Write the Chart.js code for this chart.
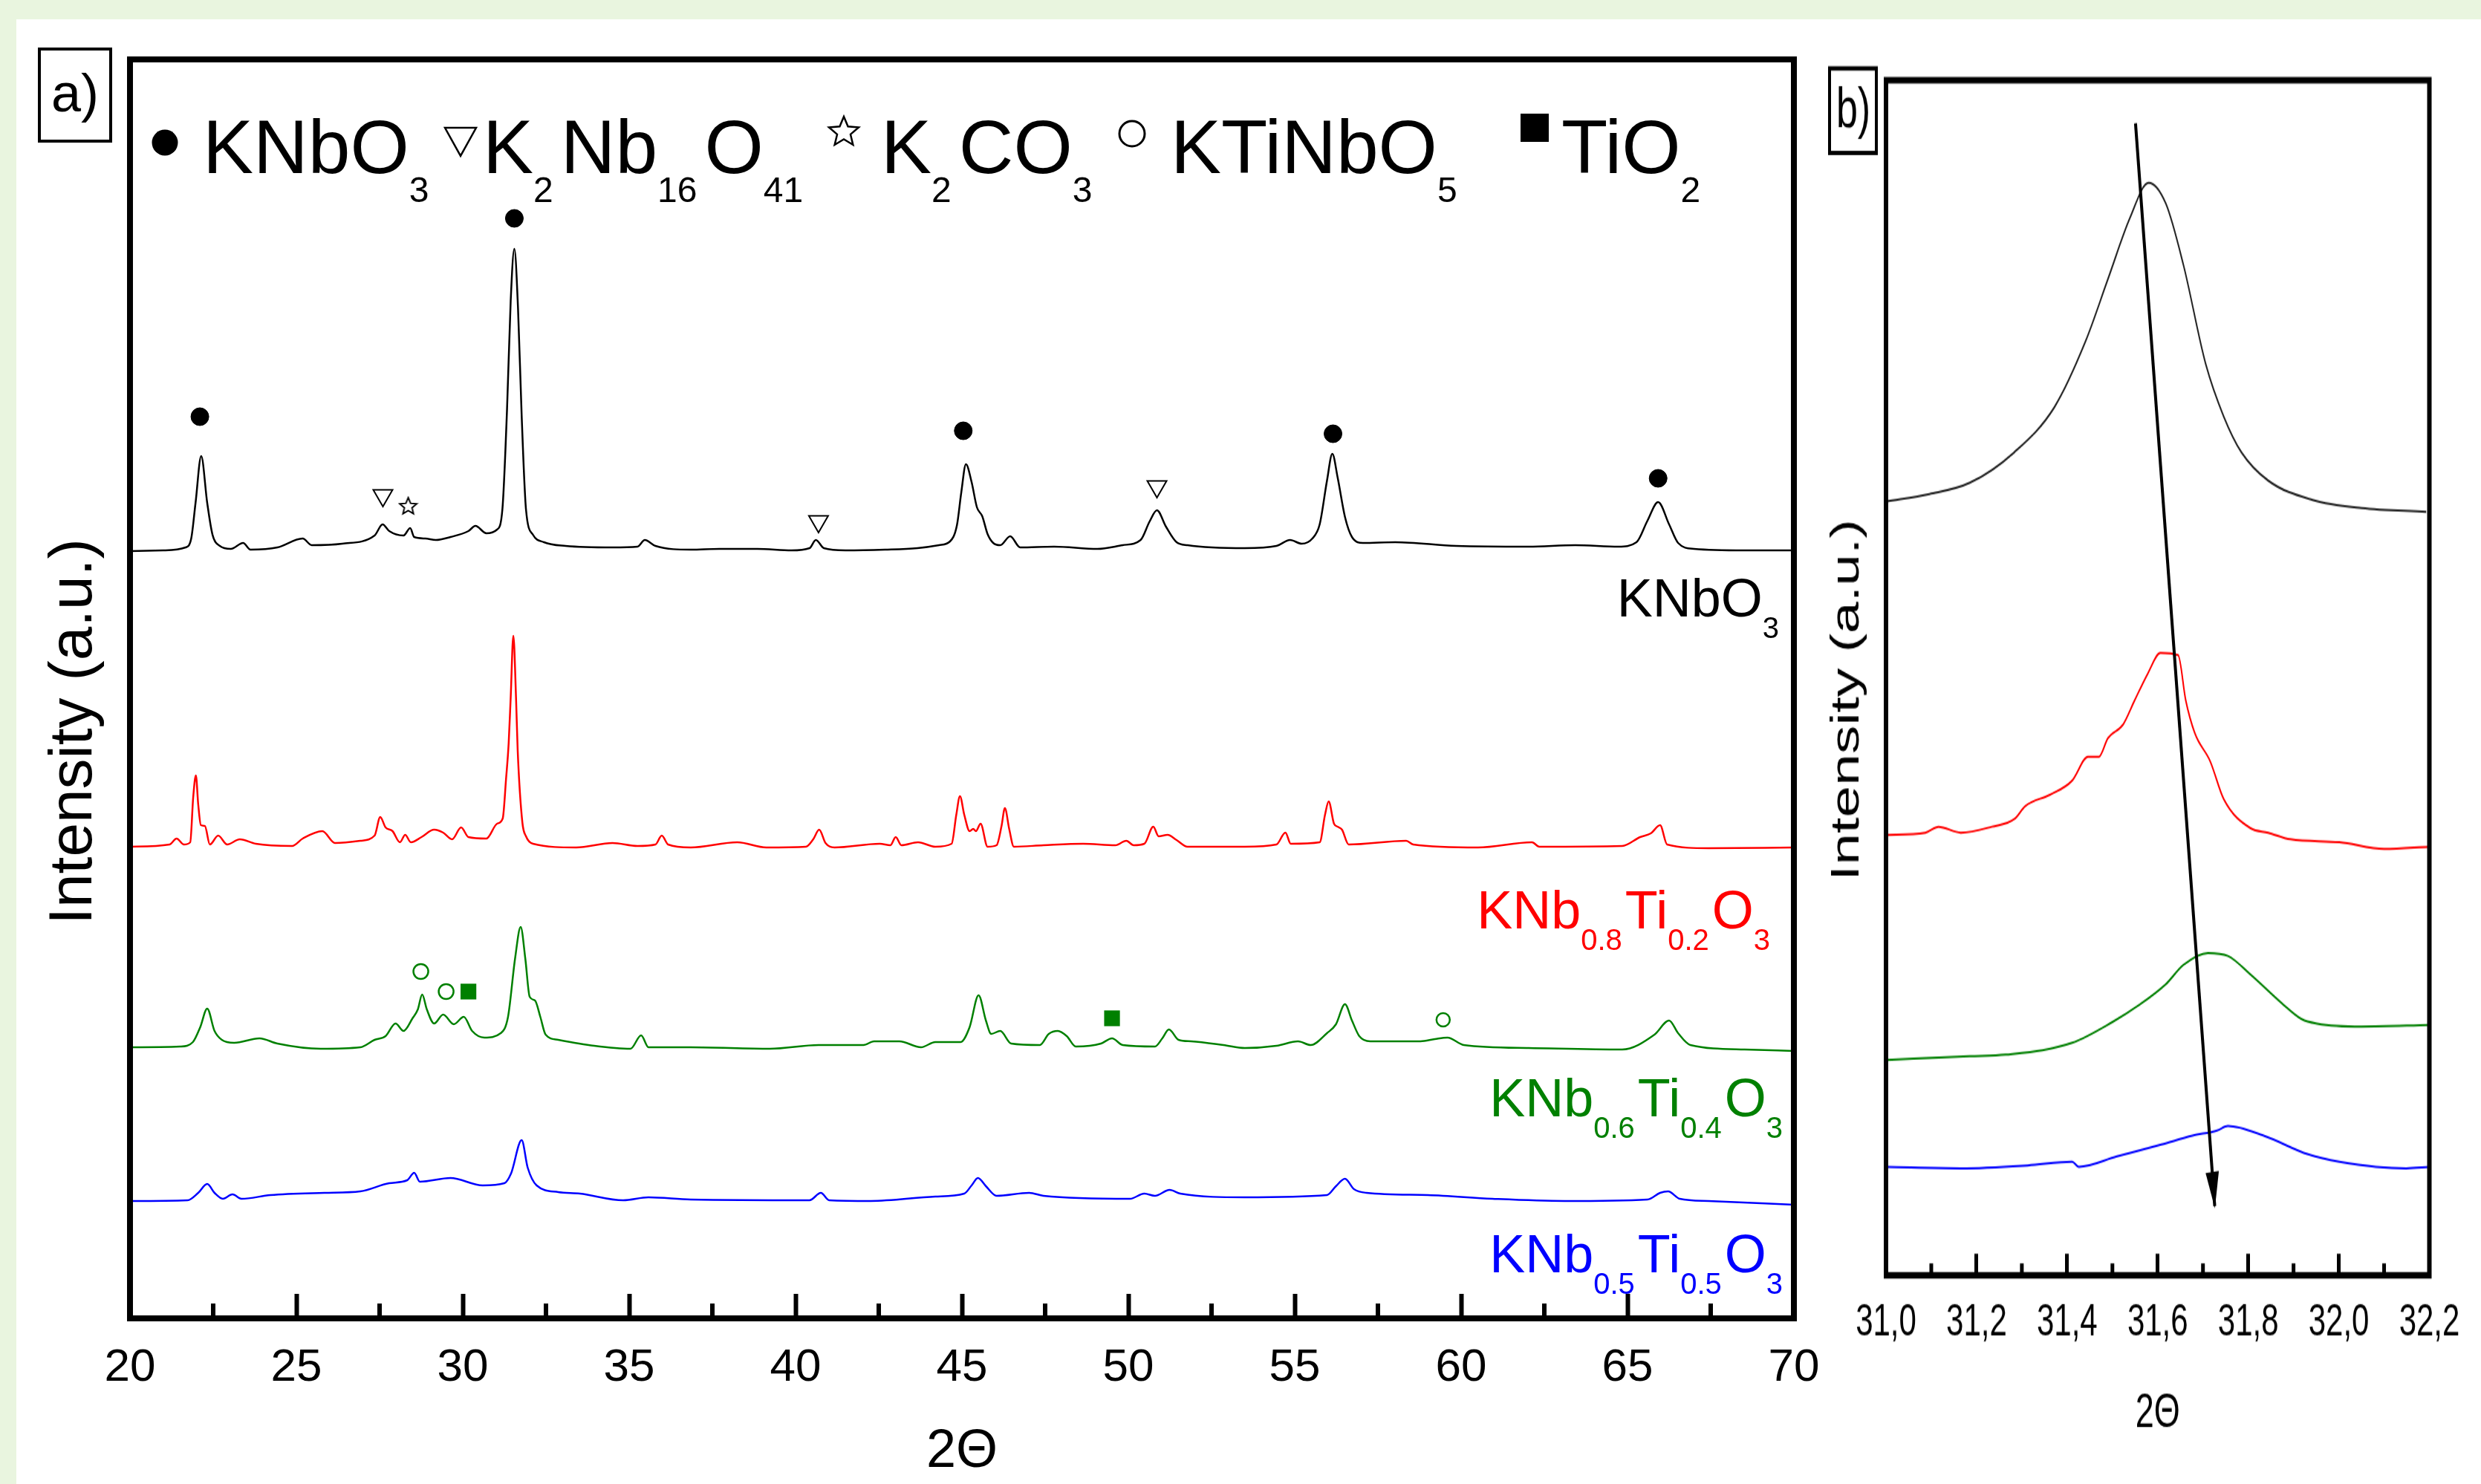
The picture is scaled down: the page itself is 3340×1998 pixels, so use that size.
<!DOCTYPE html>
<html>
<head>
<meta charset="utf-8">
<title>XRD patterns of KNbO3 and KNb1-xTixO3</title>
<script src="https://cdn.jsdelivr.net/npm/chart.js@4.4.1/dist/chart.umd.min.js"></script>
<style>
  html, body { margin: 0; padding: 0; }
  body { width: 3340px; height: 1998px; background: #e9f5df; position: relative; overflow: hidden; }
  .sheet { position: absolute; left: 22px; top: 26px; right: 0; bottom: 0; background: #fff; }
  canvas { position: absolute; top: 0; }
  #xrd { left: 0; }
  #zoom { left: 2420px; }
</style>
</head>
<body>
<div class="sheet"></div>
<canvas id="xrd" width="2520" height="1998" style="width:2520px;height:1998px"></canvas>
<canvas id="zoom" width="960" height="1378" style="width:960px;height:1998px"></canvas>
<script>
const FONT = "'Liberation Sans', Arial, Helvetica, sans-serif";
Chart.defaults.font.family = FONT;
Chart.defaults.color = '#000';

// a) full patterns, [2theta, counts above the pattern's own baseline]
const knbo3Pattern = [
  [20.00, 0], [21.00, 1], [21.67, 5], [21.84, 17], [21.97, 65], [22.14, 128], [22.32, 65], [22.48, 22],
  [22.70, 7], [23.03, 3], [23.40, 11], [23.62, 2], [24.43, 5], [25.19, 17], [25.46, 8], [26.38, 10],
  [27.35, 21], [27.59, 36], [27.79, 27], [28.22, 21], [28.42, 31], [28.54, 19], [28.87, 17], [29.19, 15],
  [29.63, 19], [30.17, 27], [30.38, 34], [30.71, 24], [31.03, 29], [31.19, 56], [31.33, 191], [31.44, 337],
  [31.55, 407], [31.66, 327], [31.77, 182], [31.90, 56], [32.11, 22], [32.44, 12], [33.09, 7], [34.50, 5],
  [35.25, 6], [35.47, 15], [35.79, 7], [36.85, 2], [37.71, 3], [38.85, 3], [39.88, 1], [40.42, 4],
  [40.61, 15], [40.85, 4], [41.50, 1], [42.69, 2], [43.66, 4], [44.31, 8], [44.64, 13], [44.85, 35],
  [44.98, 79], [45.12, 117], [45.29, 93], [45.45, 59], [45.61, 47], [45.77, 23], [45.94, 11], [46.15, 8],
  [46.45, 20], [46.75, 5], [47.77, 6], [49.07, 3], [49.83, 8], [50.37, 15], [50.64, 40], [50.86, 55],
  [51.13, 33], [51.45, 12], [51.78, 8], [53.50, 4], [54.45, 7], [54.86, 15], [55.21, 10], [55.53, 17],
  [55.75, 36], [55.97, 95], [56.13, 131], [56.29, 99], [56.51, 46], [56.72, 19], [57.05, 11], [58.02, 12],
  [59.86, 7], [62.03, 6], [63.43, 8], [64.73, 6], [65.27, 12], [65.60, 41], [65.92, 66], [66.25, 36],
  [66.52, 11], [67.00, 3], [68.52, 1], [70.00, 1],
];
const knbti02Pattern = [
  [20.00, 0], [21.19, 3], [21.40, 11], [21.62, 3], [21.81, 6], [21.90, 67], [21.98, 96], [22.05, 57],
  [22.13, 29], [22.25, 28], [22.40, 3], [22.65, 15], [22.92, 3], [23.30, 10], [23.78, 4], [24.87, 1],
  [25.19, 11], [25.78, 21], [26.16, 5], [26.92, 8], [27.35, 15], [27.52, 40], [27.68, 26], [27.89, 21],
  [28.11, 6], [28.27, 16], [28.44, 6], [28.76, 13], [29.14, 23], [29.41, 19], [29.68, 10], [29.95, 26],
  [30.17, 13], [30.71, 11], [31.03, 31], [31.20, 38], [31.30, 91], [31.38, 140], [31.44, 201], [31.52, 284],
  [31.60, 201], [31.65, 130], [31.79, 33], [31.90, 14], [32.11, 4], [33.41, -1], [34.50, 5], [35.25, 1],
  [35.79, 3], [35.98, 15], [36.17, 3], [36.85, -1], [38.25, 6], [39.12, -1], [40.31, 0], [40.53, 10],
  [40.71, 23], [40.90, 5], [41.17, -1], [42.53, 4], [42.85, 2], [43.01, 13], [43.18, 2], [43.68, 6],
  [44.20, 0], [44.69, 4], [44.83, 43], [44.94, 68], [45.07, 43], [45.23, 21], [45.34, 24], [45.42, 21],
  [45.56, 31], [45.77, 0], [46.04, 2], [46.19, 28], [46.29, 52], [46.42, 24], [46.56, 0], [47.45, 2],
  [48.64, 4], [49.61, 2], [49.94, 8], [50.16, 2], [50.48, 4], [50.75, 27], [50.91, 14], [51.18, 16],
  [51.45, 9], [51.78, 0], [53.50, 0], [54.45, 3], [54.72, 19], [54.88, 4], [55.75, 6], [55.91, 43],
  [56.02, 61], [56.18, 31], [56.29, 27], [56.42, 23], [56.62, 3], [58.35, 8], [58.56, 3], [60.51, -1],
  [62.13, 6], [62.35, 0], [64.84, 1], [65.38, 13], [65.70, 18], [65.98, 29], [66.19, 3], [67.44, -2],
  [70.00, -1],
];
const knbti04Pattern = [
  [20.00, 0], [21.51, 1], [21.89, 7], [22.11, 27], [22.32, 52], [22.54, 22], [22.76, 10], [23.13, 6],
  [23.89, 12], [24.43, 5], [25.73, -2], [26.92, 0], [27.35, 10], [27.68, 15], [27.98, 32], [28.22, 22],
  [28.49, 39], [28.65, 51], [28.78, 71], [28.92, 51], [29.14, 32], [29.41, 44], [29.73, 31], [30.03, 41],
  [30.28, 22], [30.65, 13], [31.14, 19], [31.36, 41], [31.57, 119], [31.74, 162], [31.88, 119], [32.01, 68],
  [32.17, 63], [32.33, 41], [32.49, 17], [32.87, 10], [33.95, 2], [35.04, -2], [35.36, 16], [35.58, 0],
  [36.85, 0], [39.23, -2], [40.69, 3], [42.04, 3], [42.36, 8], [43.12, 8], [43.77, 0], [44.20, 7],
  [44.96, 7], [45.23, 27], [45.50, 70], [45.72, 36], [45.88, 18], [46.15, 22], [46.48, 5], [47.34, 3],
  [47.61, 18], [47.88, 22], [48.15, 15], [48.42, 1], [49.18, 5], [49.51, 12], [49.83, 3], [50.80, 1],
  [51.02, 12], [51.22, 24], [51.51, 10], [51.89, 8], [52.86, 3], [53.50, -1], [54.45, 2], [55.10, 8],
  [55.48, 3], [55.97, 19], [56.24, 31], [56.51, 58], [56.72, 36], [56.94, 15], [57.27, 8], [58.78, 8],
  [59.21, 11], [59.59, 13], [60.08, 3], [62.03, -1], [64.84, -3], [65.81, 17], [66.25, 36], [66.52, 19],
  [66.89, 3], [68.52, -3], [70.00, -5],
];
const knbti05Pattern = [
  [20.00, 0], [21.73, 1], [22.05, 11], [22.32, 23], [22.54, 11], [22.79, 3], [23.08, 9], [23.35, 3],
  [24.22, 8], [25.84, 11], [26.92, 13], [27.79, 24], [28.33, 28], [28.54, 38], [28.71, 26], [29.63, 31],
  [30.60, 21], [31.25, 24], [31.45, 37], [31.77, 82], [31.95, 45], [32.22, 21], [32.87, 12], [33.52, 10],
  [34.82, 1], [35.58, 5], [36.85, 2], [40.42, 1], [40.76, 11], [41.01, 1], [42.26, 0], [44.20, 6],
  [45.07, 10], [45.29, 21], [45.48, 31], [45.72, 20], [46.04, 7], [47.02, 11], [47.45, 7], [50.05, 3],
  [50.48, 10], [50.80, 7], [51.24, 15], [51.56, 10], [53.50, 5], [55.97, 8], [56.24, 20], [56.51, 30],
  [56.78, 16], [57.16, 11], [59.00, 8], [60.94, 3], [63.11, 0], [65.60, 2], [65.98, 11], [66.22, 13],
  [66.57, 3], [67.44, 0], [70.00, -5],
];
const patterns = [knbo3Pattern, knbti02Pattern, knbti04Pattern, knbti05Pattern];
const patternOffsets = [1033, 635, 365, 158];
const patternColors = ['#000000', '#ff0000', '#008000', '#0000ff'];
const patternLabels = ['KNbO_{3}', 'KNb_{0.8}Ti_{0.2}O_{3}', 'KNb_{0.6}Ti_{0.4}O_{3}', 'KNb_{0.5}Ti_{0.5}O_{3}'];

// phase marks, [2theta, height in the stacked plot]
const knbo3Marks = [[22.10, 1214], [31.55, 1481], [45.04, 1195], [56.15, 1191], [65.92, 1131]];
const k2nb16o41Marks = [[27.60, 1108], [40.69, 1073], [50.86, 1120]];
const k2co3Marks = [[28.36, 1094]];
const ktinbo5Marks = [[28.74, 467], [29.50, 440], [59.46, 402]];
const tio2Marks = [[30.17, 440], [49.51, 404]];
const phaseNames = ['KNbO_{3}', 'K_{2}Nb_{16}O_{41}', 'K_{2}CO_{3}', 'KTiNbO_{5}', 'TiO_{2}'];
const minorTicksA = [22.5, 27.5, 32.5, 37.5, 42.5, 47.5, 52.5, 57.5, 62.5, 67.5];

// b) zoom on the main reflection
const zoomKnbo3 = [
  [31.000, 1042], [31.096, 1052], [31.185, 1067], [31.283, 1108], [31.372, 1169], [31.441, 1258],
  [31.490, 1341], [31.539, 1424], [31.580, 1471], [31.618, 1443], [31.657, 1360], [31.706, 1227],
  [31.746, 1156], [31.785, 1108], [31.844, 1070], [31.942, 1044], [32.050, 1033], [32.193, 1028],
];
const zoomTi02 = [
  [31.000, 593], [31.087, 596], [31.116, 604], [31.165, 596], [31.234, 604], [31.283, 614], [31.308, 632],
  [31.362, 647], [31.411, 666], [31.446, 698], [31.470, 698], [31.490, 723], [31.524, 742], [31.549, 774],
  [31.578, 810], [31.606, 838], [31.645, 835], [31.662, 774], [31.682, 730], [31.716, 692], [31.746, 641],
  [31.805, 602], [31.844, 596], [31.893, 587], [32.001, 583], [32.100, 574], [32.200, 577],
];
const zoomTi04 = [
  [31.000, 290], [31.185, 295], [31.264, 297], [31.411, 313], [31.500, 341], [31.559, 364], [31.618, 392],
  [31.657, 418], [31.711, 434], [31.755, 430], [31.805, 405], [31.873, 367], [31.918, 345], [31.952, 339],
  [32.050, 335], [32.200, 337],
];
const zoomTi05 = [
  [31.000, 146], [31.165, 144], [31.313, 148], [31.411, 153], [31.426, 146], [31.510, 160], [31.608, 176],
  [31.677, 188], [31.731, 195], [31.755, 201], [31.834, 188], [31.932, 163], [32.001, 153], [32.149, 144],
  [32.200, 146],
];
const zoomPatterns = [zoomKnbo3, zoomTi02, zoomTi04, zoomTi05];
const zoomColors = ['#222222', '#ff0000', '#008000', '#0000ff'];
const shiftArrow = [[31.551, 1551], [31.726, 93]];
const minorTicksB = [31.1, 31.3, 31.5, 31.7, 31.9, 32.1];

const toPoints = (pairs, offset = 0) => pairs.map(([x, y]) => ({ x, y: y + offset }));

function formulaParts(text) {
  return text.split(/_\{([^}]*)\}/)
    .map((t, i) => ({ t, sub: i % 2 === 1 }))
    .filter((p) => p.t);
}

function drawFormula(ctx, text, x, y, o) {
  const parts = formulaParts(text);
  const fontOf = (p) => `${p.sub ? o.subSize : o.size}px ${FONT}`;
  const widths = parts.map((p, i) => {
    ctx.font = fontOf(p);
    const gap = p.sub && i < parts.length - 1 ? o.gap : 0;
    return ctx.measureText(p.t).width + gap;
  });
  const total = widths.reduce((s, w) => s + w, 0);
  let cx = o.align === 'right' ? x - total : x;
  ctx.textAlign = 'left';
  ctx.textBaseline = 'alphabetic';
  parts.forEach((p, i) => {
    ctx.font = fontOf(p);
    ctx.fillText(p.t, cx, p.sub ? y + o.drop : y);
    cx += widths[i];
  });
}

function starPath(ctx, cx, cy, outer, inner) {
  ctx.beginPath();
  for (let i = 0; i < 10; i += 1) {
    const r = i % 2 ? inner : outer;
    const a = -Math.PI / 2 + (i * Math.PI) / 5;
    ctx.lineTo(cx + r * Math.cos(a), cy + r * Math.sin(a));
  }
  ctx.closePath();
}

function drawSymbol(ctx, kind, x, y, size, color) {
  ctx.save();
  ctx.fillStyle = color;
  ctx.strokeStyle = color;
  ctx.lineWidth = 2.5;
  const h = size / 2;
  if (kind === 'dot') {
    ctx.beginPath();
    ctx.arc(x, y, h, 0, Math.PI * 2);
    ctx.fill();
  } else if (kind === 'triangle') {
    ctx.beginPath();
    ctx.moveTo(x - h, y - size * 0.45);
    ctx.lineTo(x + h, y - size * 0.45);
    ctx.lineTo(x, y + size * 0.45);
    ctx.closePath();
    ctx.stroke();
  } else if (kind === 'star') {
    starPath(ctx, x, y, h, h * 0.45);
    ctx.stroke();
  } else if (kind === 'ring') {
    ctx.lineWidth = 3;
    ctx.beginPath();
    ctx.arc(x, y, h - 2, 0, Math.PI * 2);
    ctx.stroke();
  } else {
    ctx.fillRect(x - h, y - h, size, size);
  }
  ctx.restore();
}

// star marker for the scatter set
const starMark = document.createElement('canvas');
starMark.width = 28;
starMark.height = 28;
{
  const sctx = starMark.getContext('2d');
  sctx.strokeStyle = '#000';
  sctx.lineWidth = 2;
  starPath(sctx, 14, 15, 12, 5.4);
  sctx.stroke();
}

// layout of the hand-placed texts (canvas pixels)
const LEGEND_LAYOUT = [
  { kind: 'dot', sx: 222, sy: 192, size: 35, tx: 273 },
  { kind: 'triangle', sx: 620, sy: 191, size: 42, tx: 650 },
  { kind: 'star', sx: 1136, sy: 178, size: 42, tx: 1186 },
  { kind: 'ring', sx: 1524, sy: 180, size: 38, tx: 1576 },
  { kind: 'square', sx: 2066, sy: 172, size: 38, tx: 2102 },
];
const LABEL_ANCHORS = [[2395, 830], [2383, 1250], [2400, 1503], [2400, 1713]];

const panelA = {
  id: 'panelA',
  afterDraw(chart) {
    const { ctx, chartArea: area, scales: { x } } = chart;
    ctx.save();
    ctx.strokeStyle = '#000';
    ctx.fillStyle = '#000';
    ctx.lineWidth = 8;
    ctx.strokeRect(area.left, area.top, area.right - area.left, area.bottom - area.top);

    ctx.lineWidth = 6;
    minorTicksA.forEach((v) => {
      const px = x.getPixelForValue(v);
      ctx.beginPath();
      ctx.moveTo(px, area.bottom);
      ctx.lineTo(px, area.bottom - 20);
      ctx.stroke();
    });

    ctx.lineWidth = 4;
    ctx.strokeRect(53, 66, 96, 124);
    ctx.font = `72px ${FONT}`;
    ctx.textAlign = 'center';
    ctx.textBaseline = 'middle';
    ctx.fillText('a)', 101, 130);

    ctx.save();
    ctx.translate(100, 985);
    ctx.rotate(-Math.PI / 2);
    ctx.font = `82px ${FONT}`;
    ctx.fillText('Intensity (a.u.)', 0, 0);
    ctx.restore();

    LEGEND_LAYOUT.forEach((item, i) => {
      drawSymbol(ctx, item.kind, item.sx, item.sy, item.size, '#000');
      ctx.fillStyle = '#000';
      drawFormula(ctx, phaseNames[i], item.tx, 233, { size: 102, subSize: 48, drop: 39, gap: 10, align: 'left' });
    });

    patternLabels.forEach((label, i) => {
      const [rx, by] = LABEL_ANCHORS[i];
      ctx.fillStyle = patternColors[i];
      drawFormula(ctx, label, rx, by, { size: 72, subSize: 40, drop: 29, gap: 4, align: 'right' });
    });
    ctx.restore();
  },
};

const markerSets = [
  {
    label: 'KNbO3', data: toPoints(knbo3Marks), showLine: false, pointStyle: 'circle', pointRadius: 12,
    pointBackgroundColor: '#000', pointBorderColor: '#000', pointBorderWidth: 1,
  },
  {
    label: 'K2Nb16O41', data: toPoints(k2nb16o41Marks), showLine: false, pointStyle: 'triangle',
    pointRotation: 180, pointRadius: 15, pointBackgroundColor: '#fff', pointBorderColor: '#000', pointBorderWidth: 2,
  },
  {
    label: 'K2CO3', data: toPoints(k2co3Marks), showLine: false, pointStyle: starMark, pointRadius: 12,
  },
  {
    label: 'KTiNbO5', data: toPoints(ktinbo5Marks), showLine: false, pointStyle: 'circle', pointRadius: [10, 10, 9],
    pointBackgroundColor: '#fff', pointBorderColor: '#008000', pointBorderWidth: 2.5,
  },
  {
    label: 'TiO2', data: toPoints(tio2Marks), showLine: false, pointStyle: 'rect', pointRadius: 15,
    pointBackgroundColor: '#008000', pointBorderColor: '#008000', pointBorderWidth: 0,
  },
];

const patternSets = patterns.map((pairs, i) => ({
  label: patternLabels[i].replace(/[_{}]/g, ''),
  data: toPoints(pairs, patternOffsets[i]),
  borderColor: patternColors[i],
  borderWidth: 2.5,
  pointRadius: 0,
  cubicInterpolationMode: 'monotone',
}));

new Chart(document.getElementById('xrd'), {
  type: 'line',
  data: { datasets: [...markerSets, ...patternSets] },
  options: {
    responsive: false,
    animation: false,
    devicePixelRatio: 1,
    layout: { padding: { left: 175, right: 105, top: 80, bottom: 0 } },
    plugins: { legend: { display: false }, tooltip: { enabled: false } },
    scales: {
      x: {
        type: 'linear',
        min: 20,
        max: 70,
        ticks: { stepSize: 5, padding: 63, font: { size: 62 }, color: '#000' },
        grid: { drawOnChartArea: false, tickLength: -33, tickWidth: 6, tickColor: '#000' },
        border: { display: false },
        title: { display: true, text: '2Θ', font: { size: 72 }, color: '#000', padding: { top: 0, bottom: 0 } },
        afterFit: (scale) => { scale.height = 223; },
      },
      y: { display: false, min: 0, max: 1695 },
    },
  },
  plugins: [panelA],
});

const panelB = {
  id: 'panelB',
  afterDraw(chart) {
    const { ctx, chartArea: area, scales: { x } } = chart;
    ctx.save();
    ctx.strokeStyle = '#000';
    ctx.fillStyle = '#000';
    ctx.lineWidth = 6;
    ctx.strokeRect(area.left, area.top, area.right - area.left, area.bottom - area.top);

    ctx.lineWidth = 5;
    minorTicksB.forEach((v) => {
      const px = x.getPixelForValue(v);
      ctx.beginPath();
      ctx.moveTo(px, area.bottom);
      ctx.lineTo(px, area.bottom - 11);
      ctx.stroke();
    });

    const [p0, p1] = chart.getDatasetMeta(0).data;
    const ang = Math.atan2(p1.y - p0.y, p1.x - p0.x);
    ctx.save();
    ctx.translate(p1.x, p1.y);
    ctx.rotate(ang);
    ctx.beginPath();
    ctx.moveTo(2, 0);
    ctx.lineTo(-32, -9);
    ctx.lineTo(-32, 9);
    ctx.closePath();
    ctx.fill();
    ctx.restore();

    ctx.lineWidth = 4;
    ctx.strokeRect(43, 63.5, 63, 78.5);
    ctx.font = `52px ${FONT}`;
    ctx.textAlign = 'center';
    ctx.textBaseline = 'middle';
    ctx.fillText('b)', 75, 104);

    ctx.save();
    ctx.translate(67, 650);
    ctx.rotate(-Math.PI / 2);
    ctx.font = `53px ${FONT}`;
    ctx.fillText('Intensity (a.u.)', 0, 0);
    ctx.restore();
    ctx.restore();
  },
};

new Chart(document.getElementById('zoom'), {
  type: 'line',
  data: {
    datasets: [
      {
        label: 'shift', data: toPoints(shiftArrow), borderColor: '#000', borderWidth: 4, pointRadius: 0,
      },
      ...zoomPatterns.map((pairs, i) => ({
        label: patternLabels[i].replace(/[_{}]/g, ''),
        data: toPoints(pairs),
        borderColor: zoomColors[i],
        borderWidth: 2,
        pointRadius: 0,
        cubicInterpolationMode: 'monotone',
      })),
    ],
  },
  options: {
    responsive: false,
    animation: false,
    devicePixelRatio: 1,
    layout: { padding: { left: 119, right: 109.5, top: 74.5, bottom: 0 } },
    plugins: { legend: { display: false }, tooltip: { enabled: false } },
    scales: {
      x: {
        type: 'linear',
        min: 31,
        max: 32.2,
        ticks: {
          stepSize: 0.2, padding: 39, font: { size: 42 }, color: '#000',
          callback: (v) => v.toFixed(1).replace('.', ','),
        },
        grid: { drawOnChartArea: false, tickLength: -20, tickWidth: 5, tickColor: '#000' },
        border: { display: false },
        title: { display: true, text: '2Θ', font: { size: 45 }, color: '#000', padding: { top: 0, bottom: 38 } },
        afterFit: (scale) => { scale.height = 193.8; },
      },
      y: { display: false, min: 0, max: 1609 },
    },
  },
  plugins: [panelB],
});
</script>
</body>
</html>
